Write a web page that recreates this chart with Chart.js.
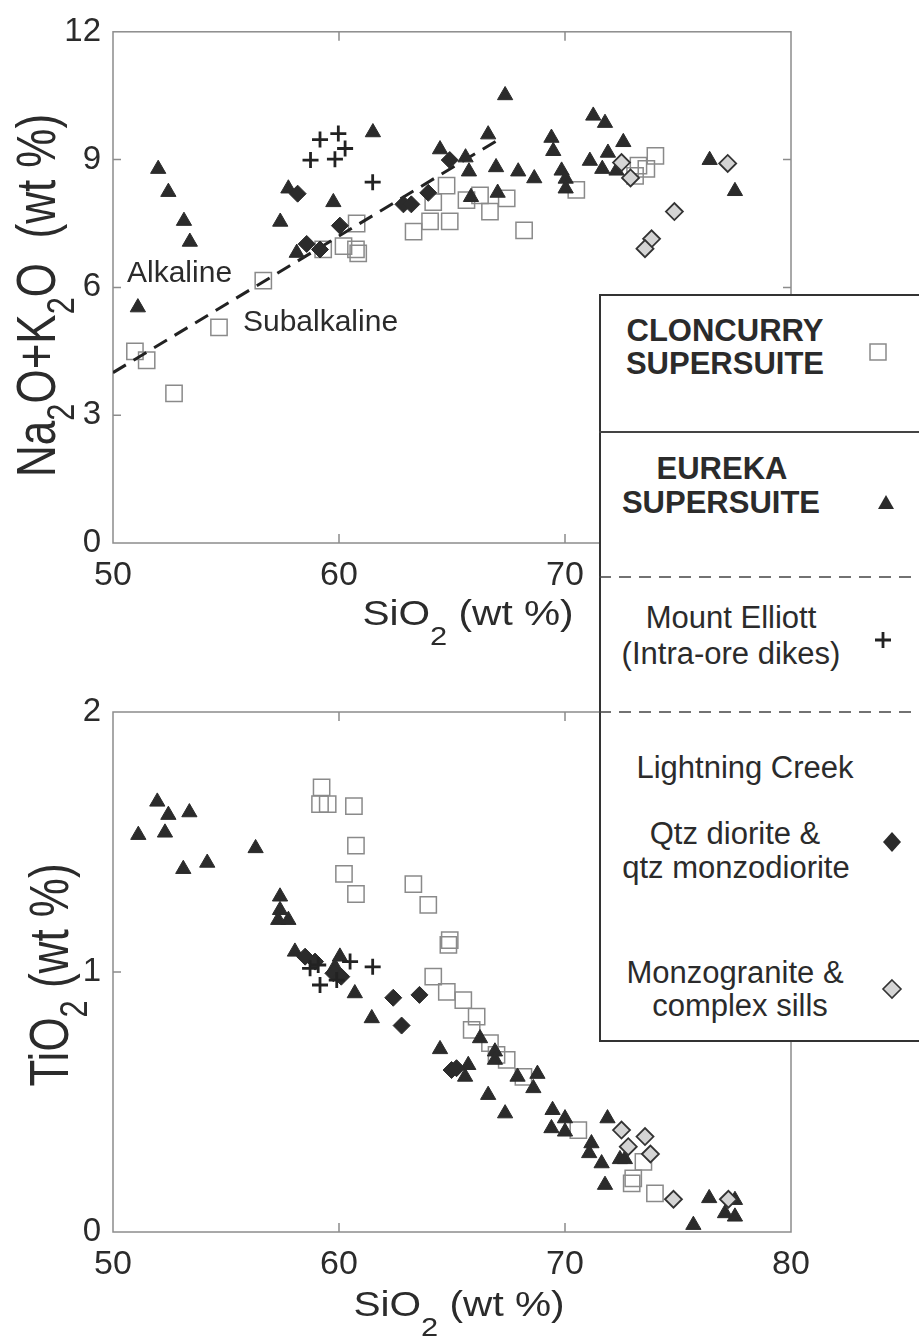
<!DOCTYPE html>
<html>
<head>
<meta charset="utf-8">
<script src="https://cdn.jsdelivr.net/npm/chart.js@4.4.1/dist/chart.umd.min.js"></script>
<style>
  html, body { margin: 0; padding: 0; background: #fff; overflow: hidden; }
  body { width: 919px; height: 1340px; position: relative; }
  canvas { position: absolute; left: 0; }
  #alkaliChart { top: 0; }
  #titaniaChart { top: 660px; }
  #key { position: absolute; left: 599px; top: 294px; z-index: 2; }
  #key text { font-family: "Liberation Sans", Arial, sans-serif; font-size: 31px; fill: #2b2b2b; }
</style>
</head>
<body>
<canvas id="alkaliChart" width="919" height="660"></canvas>
<canvas id="titaniaChart" width="919" height="680"></canvas>

<svg id="key" width="330" height="749" xmlns="http://www.w3.org/2000/svg">
  <rect x="1" y="1" width="340" height="746" fill="#fff" stroke="#333" stroke-width="2"/>
  <line x1="0" y1="138" x2="330" y2="138" stroke="#444" stroke-width="2"/>
  <line x1="0" y1="283" x2="330" y2="283" stroke="#444" stroke-width="1.6" stroke-dasharray="12 8"/>
  <line x1="0" y1="418" x2="330" y2="418" stroke="#444" stroke-width="1.6" stroke-dasharray="12 8"/>

  <text x="126" y="36" text-anchor="middle" dominant-baseline="central" font-weight="bold">CLONCURRY</text>
  <text x="126" y="69" text-anchor="middle" dominant-baseline="central" font-weight="bold">SUPERSUITE</text>
  <text x="123" y="174" text-anchor="middle" dominant-baseline="central" font-weight="bold">EUREKA</text>
  <text x="122" y="208" text-anchor="middle" dominant-baseline="central" font-weight="bold">SUPERSUITE</text>
  <text x="132" y="323" text-anchor="middle" dominant-baseline="central">Mount Elliott</text>
  <text x="132" y="359" text-anchor="middle" dominant-baseline="central">(Intra-ore dikes)</text>
  <text x="146" y="473" text-anchor="middle" dominant-baseline="central">Lightning Creek</text>
  <text x="136" y="539" text-anchor="middle" dominant-baseline="central">Qtz diorite &amp;</text>
  <text x="137" y="573" text-anchor="middle" dominant-baseline="central">qtz monzodiorite</text>
  <text x="136" y="678" text-anchor="middle" dominant-baseline="central">Monzogranite &amp;</text>
  <text x="141" y="711" text-anchor="middle" dominant-baseline="central">complex sills</text>

  <!-- legend symbols -->
  <rect x="271" y="50" width="16" height="16" fill="none" stroke="#8a8a8a" stroke-width="1.5"/>
  <polygon points="287,201 295,215 279,215" fill="#2b2b2b"/>
  <path d="M284 338 v16 M276 346 h16" stroke="#222" stroke-width="2.8"/>
  <polygon points="293,538 302,548 293,558 284,548" fill="#2b2b2b"/>
  <polygon points="293,686 302,695 293,704 284,695" fill="#d4d4d4" stroke="#333" stroke-width="1.6"/>
</svg>

<script>
// ---------- top panel: total alkali vs silica ----------
const cloncurrySiO2A = [50.97, 51.49, 52.70, 54.69, 56.65, 59.30, 60.20, 60.75, 60.78, 60.85,
                        63.30, 64.03, 64.90, 64.17, 64.76, 65.64, 66.24, 66.68, 67.42, 68.19,
                        70.50, 73.10, 73.25, 73.60, 74.00];
const cloncurryAlk   = [4.50, 4.29, 3.51, 5.06, 6.16, 6.89, 6.97, 6.89, 7.50, 6.80,
                        7.31, 7.55, 7.55, 8.00, 8.39, 8.05, 8.16, 7.78, 8.09, 7.34,
                        8.29, 8.62, 8.86, 8.78, 9.09];

const eurekaSiO2A = [52.00, 52.45, 53.14, 53.40, 51.10, 57.76, 57.40, 58.13, 59.75, 61.50,
                     64.47, 65.60, 66.60, 65.75, 66.95, 67.93, 68.64, 69.40, 69.48, 69.85,
                     70.03, 70.03, 65.84, 67.02, 67.35, 71.25, 71.77, 72.58, 71.10, 71.90,
                     71.65, 72.28, 76.40, 77.52];
const eurekaAlk   = [8.78, 8.24, 7.56, 7.07, 5.53, 8.32, 7.54, 6.81, 8.00, 9.64,
                     9.24, 9.05, 9.59, 8.72, 8.82, 8.72, 8.56, 9.51, 9.20, 8.74,
                     8.55, 8.32, 8.12, 8.22, 10.51, 10.03, 9.86, 9.41, 8.97, 9.16,
                     8.78, 8.74, 8.99, 8.26];

const elliottSiO2A = [59.16, 59.97, 60.27, 58.74, 59.82, 61.49];
const elliottAlk   = [9.47, 9.61, 9.26, 8.99, 9.01, 8.47];

const dioriteSiO2A = [58.17, 60.04, 58.57, 59.16, 62.85, 63.20, 63.95, 64.90];
const dioriteAlk   = [8.20, 7.45, 7.02, 6.89, 7.95, 7.95, 8.22, 8.99];

const graniteSiO2A = [72.50, 72.90, 77.20, 74.84, 73.83, 73.54];
const graniteAlk   = [8.93, 8.57, 8.91, 7.78, 7.14, 6.91];

// alkaline / subalkaline divide (dashed)
const divideSiO2 = [50, 67];
const divideAlk  = [4.0, 9.45];

// ---------- bottom panel: TiO2 vs silica ----------
const cloncurrySiO2T = [59.23, 59.16, 59.50, 60.66, 60.75, 60.22, 60.75, 63.29, 63.95, 64.90,
                        64.84, 64.17, 64.77, 65.50, 66.09, 65.87, 66.68, 66.97, 67.42, 68.16,
                        70.59, 73.47, 73.02, 72.95, 73.98];
const cloncurryTi    = [1.710, 1.646, 1.646, 1.638, 1.486, 1.377, 1.300, 1.338, 1.258, 1.123,
                        1.104, 0.982, 0.924, 0.892, 0.828, 0.777, 0.726, 0.681, 0.662, 0.597,
                        0.392, 0.270, 0.206, 0.187, 0.149];

const eurekaSiO2T = [51.96, 52.45, 53.38, 51.12, 52.30, 53.11, 54.17, 56.31, 57.39, 57.39,
                     57.31, 57.76, 58.05, 60.04, 59.82, 60.70, 61.45, 66.24, 64.47, 66.90,
                     66.90, 65.72, 65.58, 67.90, 68.78, 68.60, 66.60, 67.35, 69.45, 70.00,
                     69.40, 70.00, 71.88, 71.17, 71.07, 71.62, 72.43, 72.65, 71.77, 76.38,
                     75.68, 77.08, 77.52, 77.52];
const eurekaTi    = [1.655, 1.604, 1.614, 1.527, 1.536, 1.396, 1.420, 1.476, 1.290, 1.238,
                     1.200, 1.200, 1.078, 1.059, 1.020, 0.918, 0.822, 0.745, 0.703, 0.694,
                     0.662, 0.642, 0.597, 0.597, 0.608, 0.553, 0.527, 0.456, 0.469, 0.437,
                     0.399, 0.386, 0.437, 0.341, 0.303, 0.264, 0.280, 0.280, 0.181, 0.130,
                     0.027, 0.072, 0.059, 0.123];

const elliottSiO2T = [58.72, 59.16, 59.90, 60.49, 61.49, 59.08];
const elliottTi    = [1.014, 0.950, 0.969, 1.040, 1.020, 1.027];

const dioriteSiO2T = [58.50, 58.94, 59.75, 60.10, 62.40, 63.56, 62.77, 64.98, 65.20];
const dioriteTi    = [1.059, 1.040, 0.995, 0.982, 0.901, 0.912, 0.794, 0.623, 0.630];

const graniteSiO2T = [72.50, 73.54, 72.80, 73.78, 74.80, 77.23];
const graniteTi    = [0.392, 0.367, 0.328, 0.300, 0.126, 0.126];

const silicaTicks = [50, 60, 70, 80];
const alkaliTicks = [0, 3, 6, 9, 12];
const titaniaTicks = [0, 1, 2];

const FONT = '"Liberation Sans", Arial, Helvetica, sans-serif';
const INK = '#2b2b2b';

const zip = (xs, ys) => xs.map((x, i) => ({ x: x, y: ys[i] }));

// marker styles
const squareStyle = { pointStyle: 'rect', pointRadius: 11.5, borderColor: '#8a8a8a', borderWidth: 1.5, backgroundColor: 'rgba(0,0,0,0)' };
const triStyle = { pointStyle: 'triangle', pointRadius: 8.8, borderColor: INK, borderWidth: 1, backgroundColor: INK };
const plusStyle = { pointStyle: 'cross', pointRadius: 8, borderColor: '#222', borderWidth: 2.8 };
const darkDiaStyle = { pointStyle: 'rectRot', pointRadius: 8.5, borderColor: INK, borderWidth: 1, backgroundColor: INK };
const lightDiaStyle = { pointStyle: 'rectRot', pointRadius: 8.5, borderColor: '#333', borderWidth: 1.8, backgroundColor: '#d4d4d4' };

// draw text with subscript pieces, centred on 0 with baseline at 0
function drawRich(ctx, parts, size, subDrop, subScale) {
    const subSize = size * subScale;
    let total = 0;
    parts.forEach(p => {
        ctx.font = (p[1] ? subSize : size) + 'px ' + FONT;
        total += ctx.measureText(p[0]).width;
    });
    let x = -total / 2;
    parts.forEach(p => {
        ctx.font = (p[1] ? subSize : size) + 'px ' + FONT;
        ctx.fillText(p[0], x, p[1] ? size * subDrop : 0);
        x += ctx.measureText(p[0]).width;
    });
}

// frame with inward ticks, axis titles and notes
const paperPlugin = {
    id: 'paper',
    beforeDatasetsDraw(chart, args, opts) {
        const { ctx, chartArea: a, scales } = chart;
        ctx.save();
        ctx.strokeStyle = '#8c8c8c';
        ctx.lineWidth = 1.5;
        ctx.strokeRect(a.left, a.top, a.right - a.left, a.bottom - a.top);
        ctx.beginPath();
        scales.x.ticks.forEach(t => {
            if (t.value <= scales.x.min || t.value >= scales.x.max) return;
            const px = scales.x.getPixelForValue(t.value);
            ctx.moveTo(px, a.bottom); ctx.lineTo(px, a.bottom - 9);
            ctx.moveTo(px, a.top); ctx.lineTo(px, a.top + 9);
        });
        scales.y.ticks.forEach(t => {
            if (t.value <= scales.y.min || t.value >= scales.y.max) return;
            const py = scales.y.getPixelForValue(t.value);
            ctx.moveTo(a.left, py); ctx.lineTo(a.left + 8, py);
            ctx.moveTo(a.right, py); ctx.lineTo(a.right - 8, py);
        });
        ctx.stroke();
        ctx.restore();
    },
    afterDraw(chart, args, opts) {
        const { ctx, chartArea: a, scales } = chart;
        ctx.save();
        ctx.fillStyle = INK;
        ctx.textBaseline = 'alphabetic';
        ctx.textAlign = 'left';

        // x title
        ctx.save();
        ctx.translate(opts.xTitle.cx, a.bottom + opts.xTitle.drop);
        ctx.scale(1.16, 1);
        drawRich(ctx, opts.xTitle.parts, 35, 0.56, 0.76);
        ctx.restore();

        // y title (rotated)
        ctx.save();
        ctx.translate(opts.yTitle.baseX, (a.top + a.bottom) / 2 + opts.yTitle.shift);
        ctx.rotate(-Math.PI / 2);
        ctx.scale(1, 1.25);
        drawRich(ctx, opts.yTitle.parts, 44, 0.34, 0.7);
        ctx.restore();

        // notes
        (opts.notes || []).forEach(n => {
            ctx.font = '30px ' + FONT;
            ctx.fillText(n.text, scales.x.getPixelForValue(n.x), scales.y.getPixelForValue(n.y));
        });
        ctx.restore();
    }
};

function makeScales(yTicks, xBand) {
    return {
        x: {
            type: 'linear', min: silicaTicks[0], max: silicaTicks[silicaTicks.length - 1],
            afterBuildTicks: s => { s.ticks = silicaTicks.map(v => ({ value: v })); },
            afterFit: s => { s.height = xBand; },
            grid: { display: false, drawTicks: false },
            border: { display: false },
            ticks: { padding: 12, color: INK, font: { family: FONT, size: 34 } }
        },
        y: {
            type: 'linear', min: yTicks[0], max: yTicks[yTicks.length - 1],
            afterBuildTicks: s => { s.ticks = yTicks.map(v => ({ value: v })); },
            ticks: { padding: 12, color: INK, font: { family: FONT, size: 33 } },
            afterFit: s => { s.width = 113; },
            grid: { display: false, drawTicks: false },
            border: { display: false }
        }
    };
}

const common = {
    responsive: false,
    animation: false,
    events: []
};

// top chart
new Chart(document.getElementById('alkaliChart').getContext('2d'), {
    type: 'scatter',
    data: {
        datasets: [
            Object.assign({ data: zip(graniteSiO2A, graniteAlk), order: 1, clip: false }, lightDiaStyle),
            Object.assign({ data: zip(elliottSiO2A, elliottAlk), order: 2, clip: false }, plusStyle),
            Object.assign({ data: zip(dioriteSiO2A, dioriteAlk), order: 3, clip: false }, darkDiaStyle),
            Object.assign({ data: zip(eurekaSiO2A, eurekaAlk), order: 4, clip: false }, triStyle),
            {
                type: 'line', data: zip(divideSiO2, divideAlk), order: 5,
                borderColor: '#222', borderWidth: 3, borderDash: [15, 9],
                pointRadius: 0, fill: false
            },
            Object.assign({ data: zip(cloncurrySiO2A, cloncurryAlk), order: 6, clip: false }, squareStyle)
        ]
    },
    options: Object.assign({}, common, {
        layout: { padding: { top: 24, right: 128, bottom: 0, left: 0 } },
        scales: makeScales(alkaliTicks, 117),
        plugins: {
            legend: { display: false },
            tooltip: { enabled: false },
            paper: {
                xTitle: { cx: 468, drop: 82, parts: [['Si'], ['O'], ['2', true], [' (wt %)']] },
                yTitle: { baseX: 55, shift: 8,
                          parts: [['Na'], ['2', true], ['O+K'], ['2', true], ['O  (wt %)']] },
                notes: [
                    { text: 'Alkaline', x: 50.62, y: 6.13 },
                    { text: 'Subalkaline', x: 55.75, y: 4.97 }
                ]
            }
        }
    }),
    plugins: [paperPlugin]
});

// bottom chart
new Chart(document.getElementById('titaniaChart').getContext('2d'), {
    type: 'scatter',
    data: {
        datasets: [
            Object.assign({ data: zip(graniteSiO2T, graniteTi), order: 1, clip: false }, lightDiaStyle),
            Object.assign({ data: zip(elliottSiO2T, elliottTi), order: 2, clip: false }, plusStyle),
            Object.assign({ data: zip(dioriteSiO2T, dioriteTi), order: 3, clip: false }, darkDiaStyle),
            Object.assign({ data: zip(eurekaSiO2T, eurekaTi), order: 4, clip: false }, triStyle),
            Object.assign({ data: zip(cloncurrySiO2T, cloncurryTi), order: 6, clip: false }, squareStyle)
        ]
    },
    options: Object.assign({}, common, {
        layout: { padding: { top: 52, right: 128, bottom: 0, left: 0 } },
        scales: makeScales(titaniaTicks, 108),
        plugins: {
            legend: { display: false },
            tooltip: { enabled: false },
            paper: {
                xTitle: { cx: 459, drop: 84, parts: [['Si'], ['O'], ['2', true], [' (wt %)']] },
                yTitle: { baseX: 68, shift: 3, parts: [['Ti'], ['O'], ['2', true], [' (wt %)']] }
            }
        }
    }),
    plugins: [paperPlugin]
});
</script>
</body>
</html>
